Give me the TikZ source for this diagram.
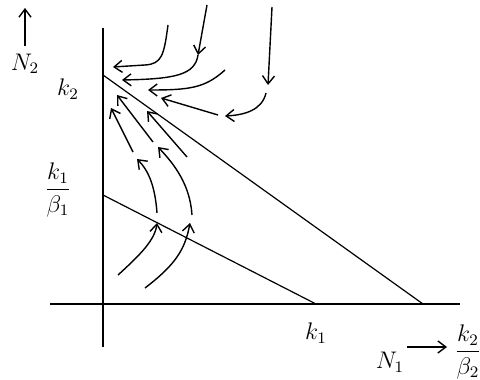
\documentclass[tikz,border=0pt]{standalone}
\usepackage{amsmath}
\usetikzlibrary{arrows.meta}
\begin{document}
\begin{tikzpicture}[x=0.5pt,y=-0.5pt,
  axis/.style={line width=0.9pt},
  iso/.style={line width=0.6pt},
  traj/.style={line width=0.7pt,-{Straight Barb[length=4pt,width=6pt]}},
  lab/.style={inner sep=0pt,font=\fontsize{11.5}{14}\selectfont}]
\useasboundingbox (0,0) rectangle (480,379);
% axes
\coordinate (ytop) at (103,28);
\coordinate (ybot) at (103,347);
\coordinate (xl) at (50,304);
\coordinate (xr) at (460,304);
\draw[axis] (ytop) -- (ybot);
\draw[axis] (xl) -- (xr);
% isoclines
\coordinate (K2) at (103,75);
\coordinate (K2B2) at (423,304);
\coordinate (K1B1) at (103,195);
\coordinate (K1) at (316,304);
\draw[iso] (K2) -- (K2B2);
\draw[iso] (K1B1) -- (K1);
% labels
\node[lab] (n2) at (25,64) {$N_2$};
\coordinate (n2a) at (25,46);
\coordinate (n2b) at (25,8);
\draw[traj] (n2a) -- (n2b);
\node[lab] (lk2) at (68,89) {$k_2$};
\node[lab] (lk1b1) at (58,190) {$\dfrac{k_1}{\beta_1}$};
\node[lab] (lk1) at (316,333) {$k_1$};
\node[lab] (lk2b2) at (468,352) {$\dfrac{k_2}{\beta_2}$};
\node[lab] (n1) at (390,362) {$N_1$};
\coordinate (n1a) at (407,347);
\coordinate (n1b) at (447,347);
\draw[traj] (n1a) -- (n1b);
% trajectories from above
\draw[traj] (168,25) .. controls (164,55) and (162,64) .. (145,65) -- (113,67);
\draw[traj] (207,5) -- (198,55);
\draw[traj] (198,55) .. controls (195,75) and (175,79) .. (122,80);
\draw[traj] (225,70) .. controls (205,88) and (190,90) .. (148,90);
\draw[traj] (272,7) -- (268,85);
\draw[traj] (266,93) .. controls (262,110) and (245,115) .. (225,116);
\draw[traj] (218,115) -- (161,98);
% trajectories from below
\draw[traj] (153,142) -- (117,95);
\draw[traj] (133,152) .. controls (122,130) .. (111,108);
\draw[traj] (187,157) -- (147,111);
\draw[traj] (157,213) .. controls (155,185) and (148,170) .. (137,159);
\draw[traj] (192,215) .. controls (190,185) and (175,165) .. (158,147);
\draw[traj] (118,275) .. controls (140,255) and (155,240) .. (157,223);
\draw[traj] (145,288) .. controls (175,265) and (185,250) .. (190,223);
\end{tikzpicture}
\end{document}
